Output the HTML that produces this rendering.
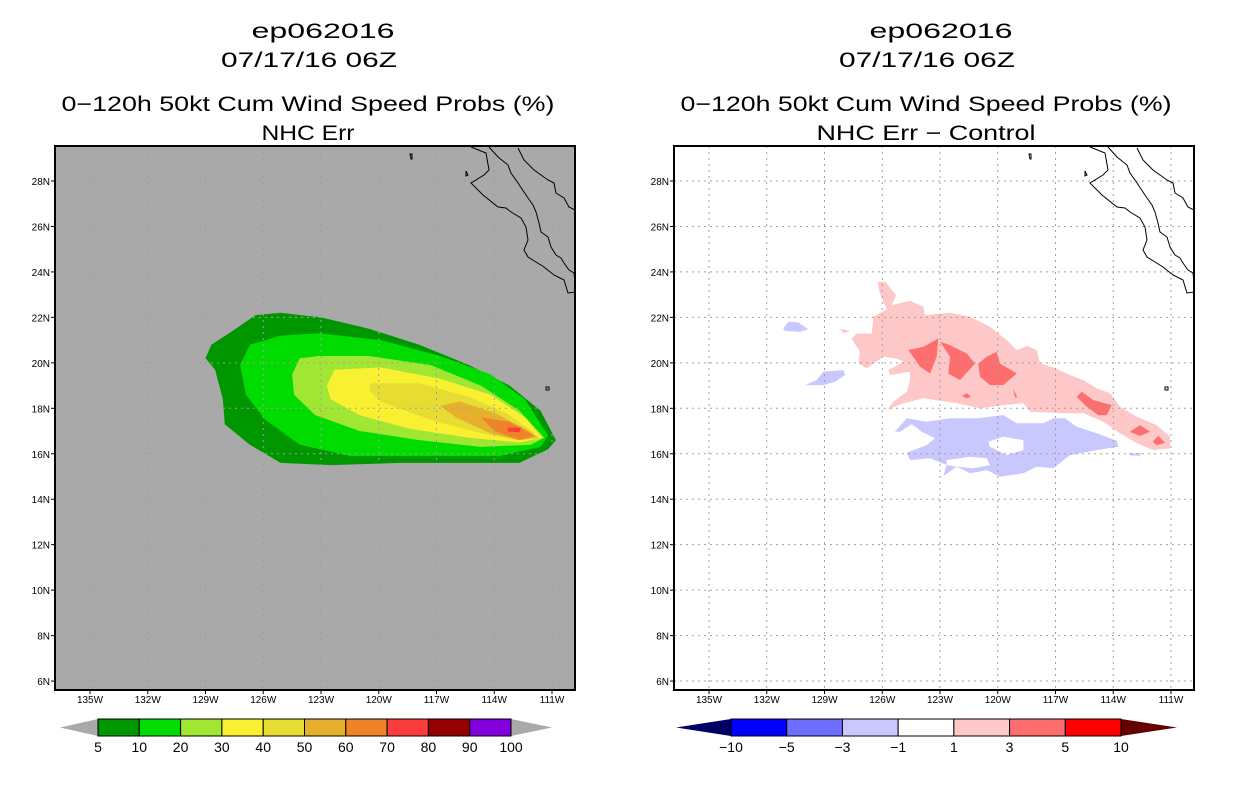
<!DOCTYPE html>
<html><head><meta charset="utf-8"><style>
html,body{margin:0;padding:0;background:#fff;}
svg{display:block;font-family:"Liberation Sans",sans-serif;}
</style></head><body>
<svg id="fig" width="1236" height="800" viewBox="0 0 1236 800" xmlns="http://www.w3.org/2000/svg">
<g font-size="21" text-anchor="middle" fill="#000" lengthAdjust="spacingAndGlyphs">
<text x="323" y="38" textLength="143" lengthAdjust="spacingAndGlyphs">ep062016</text>
<text x="309" y="67" textLength="176" lengthAdjust="spacingAndGlyphs">07/17/16 06Z</text>
<text x="308" y="111" textLength="493" lengthAdjust="spacingAndGlyphs">0−120h 50kt Cum Wind Speed Probs (%)</text>
<text x="308" y="140" textLength="93" lengthAdjust="spacingAndGlyphs">NHC Err</text>
</g>
<g font-size="21" text-anchor="middle" fill="#000">
<text x="941" y="38" textLength="143" lengthAdjust="spacingAndGlyphs">ep062016</text>
<text x="927" y="67" textLength="176" lengthAdjust="spacingAndGlyphs">07/17/16 06Z</text>
<text x="926" y="111" textLength="491" lengthAdjust="spacingAndGlyphs">0−120h 50kt Cum Wind Speed Probs (%)</text>
<text x="926" y="140" textLength="219" lengthAdjust="spacingAndGlyphs">NHC Err − Control</text>
</g>
<g id="leftPlot"></g>
<g id="rightPlot"></g>
<g id="leftBar"></g>
<g id="rightBar"></g>
</svg>
<script>
// ---- data ----
const latTicks = [28,26,24,22,20,18,16,14,12,10,8,6];
const lonTicks = [-135,-132,-129,-126,-123,-120,-117,-114,-111];
const probLevels = [5,10,20,30,40,50,60,70];
const probColors = ["#009600","#00dc00","#a0e632","#faf032","#e6dc32","#e6af2d","#f08228","#fa3c3c"];
const prob5  = [[-129.0,20.2],[-128.7,20.8],[-127.6,21.4],[-126.4,22.1],[-125.1,22.2],[-123.0,22.0],[-120.5,21.5],[-117.9,20.8],[-115.3,19.9],[-113.2,19.0],[-111.6,17.9],[-110.8,16.6],[-111.2,16.2],[-112.7,15.6],[-115.3,15.6],[-118.9,15.6],[-122.5,15.5],[-125.1,15.6],[-126.7,16.4],[-128.0,17.3],[-128.1,18.4],[-128.5,19.7]];
const prob10 = [[-127.2,19.9],[-126.7,20.8],[-125.1,21.2],[-123.1,21.3],[-119.9,21.0],[-116.8,20.3],[-114.2,19.5],[-112.4,18.4],[-111.2,16.8],[-111.6,16.3],[-113.7,15.9],[-117.9,15.9],[-121.5,15.9],[-124.1,16.4],[-125.9,17.5],[-126.9,18.6]];
const prob20 = [[-124.5,19.5],[-124.1,20.2],[-123.1,20.3],[-120.5,20.3],[-117.3,19.9],[-114.7,19.0],[-112.7,17.9],[-111.4,16.7],[-112.1,16.4],[-114.7,16.3],[-117.9,16.6],[-121.0,17.0],[-123.3,17.7],[-124.4,18.6]];
const prob30 = [[-122.7,19.0],[-122.3,19.7],[-119.9,19.8],[-116.8,19.3],[-114.2,18.6],[-112.4,17.6],[-111.5,16.7],[-112.7,16.5],[-115.3,16.7],[-118.4,17.1],[-121.0,17.7],[-122.5,18.4]];
const prob40 = [[-120.5,18.8],[-120.4,19.1],[-117.9,19.1],[-115.3,18.5],[-113.4,17.8],[-111.9,16.9],[-112.7,16.6],[-114.7,16.9],[-117.3,17.5],[-119.9,18.3]];
const prob50 = [[-116.8,18.1],[-115.8,18.3],[-114.0,17.8],[-112.4,17.1],[-111.7,16.7],[-112.7,16.6],[-114.2,16.9],[-116.0,17.6]];
const prob60 = [[-114.7,17.6],[-113.2,17.4],[-111.9,16.8],[-112.7,16.6],[-114.0,17.0]];
const prob70 = [[-113.3,17.15],[-112.6,17.15],[-112.7,16.95],[-113.3,16.98]];
const diffPos1 = [[-127.59,21.07],[-127.33,21.29],[-126.55,21.29],[-126.46,22.03],[-125.77,22.35],[-126.12,23.05],[-126.25,23.57],[-125.85,23.57],[-125.28,22.98],[-125.51,22.54],[-124.56,22.73],[-123.86,22.47],[-123.78,22.10],[-122.48,22.20],[-121.44,22.03],[-120.40,21.59],[-119.53,21.00],[-119.01,20.56],[-118.49,20.74],[-117.97,20.56],[-117.80,19.97],[-117.11,19.80],[-116.24,19.46],[-115.55,19.24],[-114.86,18.88],[-114.16,18.66],[-113.65,18.07],[-112.78,17.63],[-111.74,17.26],[-111.05,16.75],[-111.05,16.24],[-111.92,16.16],[-112.78,16.46],[-113.65,16.90],[-114.51,17.41],[-115.55,17.78],[-116.59,17.78],[-118.32,17.85],[-118.67,18.22],[-119.71,18.14],[-120.92,18.00],[-122.13,18.22],[-123.86,18.44],[-124.90,18.22],[-125.77,17.92],[-125.42,18.29],[-124.73,18.73],[-124.56,19.24],[-124.56,19.61],[-125.60,19.46],[-125.68,19.68],[-124.90,20.05],[-125.25,20.19],[-125.94,20.27],[-126.81,19.75],[-127.24,19.97],[-127.16,20.49]];
const diffPos2 = [[-128.2,21.5],[-127.7,21.4],[-128.0,21.3]];
const diffPos3 = [[-113.82,17.55],[-113.22,17.52],[-113.65,17.44]];
const diffStrong1 = [[-124.64,20.56],[-123.86,20.71],[-123.09,21.07],[-123.17,20.27],[-123.52,19.53],[-124.04,19.83]];
const diffStrong2 = [[-123.0,20.93],[-122.48,20.78],[-121.61,20.41],[-121.18,19.97],[-121.96,19.24],[-122.57,19.53],[-122.48,20.27]];
const diffStrong3 = [[-121.01,19.97],[-120.57,20.27],[-120.06,20.49],[-119.88,19.97],[-119.01,19.53],[-119.71,19.02],[-120.40,19.02],[-120.92,19.39]];
const diffStrong4 = [[-115.90,18.51],[-115.64,18.73],[-115.03,18.36],[-114.08,18.14],[-114.34,17.70],[-114.77,17.70],[-115.38,18.07]];
const diffStrong5 = [[-113.13,16.97],[-112.61,17.26],[-112.09,16.97],[-112.61,16.78]];
const diffStrong6 = [[-111.95,16.53],[-111.66,16.79],[-111.31,16.48],[-111.74,16.38]];
const diffStrong7 = [[-121.87,18.54],[-121.61,18.66],[-121.39,18.51],[-121.61,18.44]];
const diffStrong8 = [[-119.22,18.88],[-119.10,18.48],[-118.98,18.48]];
const diffNeg1 = [[-125.34,16.97],[-124.73,17.56],[-123.69,17.41],[-122.48,17.56],[-121.09,17.56],[-119.71,17.70],[-119.01,17.34],[-117.63,17.34],[-117.11,17.56],[-116.50,17.56],[-115.90,17.19],[-114.86,16.90],[-113.82,16.57],[-113.73,16.31],[-114.86,16.16],[-116.25,15.94],[-117.11,15.36],[-117.98,15.43],[-118.67,15.14],[-119.88,14.99],[-120.57,15.28],[-121.44,15.14],[-122.13,15.43],[-122.83,15.02],[-122.65,15.50],[-123.52,15.80],[-124.56,15.72],[-124.73,16.05],[-123.69,16.38],[-123.26,16.68],[-123.95,16.97],[-124.47,17.31],[-125.08,16.97]];
const diffNegHole1 = [[-120.49,16.53],[-119.71,16.75],[-118.67,16.60],[-118.67,16.16],[-119.54,15.94],[-120.40,16.31]];
const diffNegHole2 = [[-122.65,15.72],[-121.44,15.87],[-120.57,15.80],[-120.40,15.50],[-121.27,15.36],[-122.13,15.43],[-122.65,15.50]];
const diffNeg2 = [[-131.14,21.51],[-130.88,21.81],[-130.36,21.78],[-129.84,21.47],[-130.27,21.37],[-131.05,21.40]];
const diffNeg3 = [[-130.01,19.02],[-129.41,19.24],[-129.06,19.61],[-128.02,19.68],[-127.93,19.46],[-128.45,19.17],[-129.06,19.02]];
const diffNeg4 = [[-113.22,16.02],[-112.53,16.02],[-112.6,15.92],[-113.1,15.92]];
const probBarLabels = ["5","10","20","30","40","50","60","70","80","90","100"];
const probBarColors = ["#009600","#00dc00","#a0e632","#faf032","#e6dc32","#e6af2d","#f08228","#fa3c3c","#960000","#8200dc"];
const diffBarLabels = ["−10","−5","−3","−1","1","3","5","10"];
const diffBarColors = ["#0000ff","#6e6eff","#c8c8ff","#ffffff","#ffc8c8","#ff6e6e","#ff0000"];

// ---- geometry ----
const NS = "http://www.w3.org/2000/svg";
const FW = 520, FH = 544, TOP = 146;
function xs(ox){ return lon => ox + 35 + (lon + 135) * 19.25; }
function ys(lat){ return 181 + (28 - lat) * 22.73; }
function mk(tag, attrs, parent){
  const e = document.createElementNS(NS, tag);
  for (const k in attrs) e.setAttribute(k, attrs[k]);
  parent.appendChild(e); return e;
}
function pts(poly, X){ return poly.map(p => X(p[0]).toFixed(1) + "," + ys(p[1]).toFixed(1)).join(" "); }
const coastA = "M416,1 L431,7 L434,24 L429,29 L416,37 L428,49 L443,61 L451,62 L456,66 L466,72 L471,81 L473,94 L469,104 L473,111 L481,116 L489,121 L499,129 L509,134 L513,147 L521,146 L519,127 L514,124 L509,117 L506,112 L501,109 L496,101 L493,91 L486,86 L484,77 L481,66 L478,59 L473,52 L463,37 L456,27 L453,19 L443,11 L434,1";
const coastB = "M463,2 L469,14 L479,24 L493,34 L499,37 L501,47 L509,52 L514,61 L520,64";
const islands = "M355,8 l1,5 l1,0 l0,-5 Z M411,25 l2,4 l-2,1 Z M491,241 l3,0 l0,3 l-3,0 Z";

function drawPanel(g, ox, bg, which){
  const X = xs(ox);
  const clipId = "clip" + which;
  const cp = mk("clipPath", {id: clipId}, g);
  mk("rect", {x: ox, y: TOP, width: FW, height: FH}, cp);
  const bgr = mk("rect", {x: ox, y: TOP, width: FW, height: FH, fill: bg}, g);
  
  
  const inner = mk("g", {"clip-path": "url(#" + clipId + ")"}, g);
  if (which === "L") {
    const polys = [prob5, prob10, prob20, prob30, prob40, prob50, prob60, prob70];
    polys.forEach((poly, i) => {
      const p = mk("polygon", {points: pts(poly, X), fill: probColors[i]}, inner);
      
      
    });
  } else {
    const pink = [diffPos1, diffPos2, diffPos3];
    pink.forEach(poly => {
      const p = mk("polygon", {points: pts(poly, X), fill: "#ffc8c8"}, inner);
      
      
    });
    const red = [diffStrong1, diffStrong2, diffStrong3, diffStrong4, diffStrong5, diffStrong6, diffStrong7, diffStrong8];
    red.forEach(poly => {
      const p = mk("polygon", {points: pts(poly, X), fill: "#ff6e6e"}, inner);
      
      
    });
    const blue = [diffNeg1, diffNeg2, diffNeg3, diffNeg4];
    blue.forEach(poly => {
      const p = mk("polygon", {points: pts(poly, X), fill: "#c8c8ff"}, inner);
      
      
    });
    [diffNegHole1, diffNegHole2].forEach(poly => {
      const p = mk("polygon", {points: pts(poly, X), fill: "#ffffff"}, inner);
      
      
    });
  }
  lonTicks.forEach(lon => {
    const l = mk("line", {x1: X(lon), x2: X(lon), y1: TOP, y2: TOP + FH, stroke: "#a0a0a0", "stroke-width": 1, "stroke-dasharray": "2,4"}, inner);
    
    
  });
  latTicks.forEach(lat => {
    const l = mk("line", {x1: ox, x2: ox + FW, y1: ys(lat), y2: ys(lat), stroke: "#a0a0a0", "stroke-width": 1, "stroke-dasharray": "2,4"}, inner);
    
    
  });
  const cg = mk("g", {transform: "translate(" + ox + "," + TOP + ")", fill: "none", stroke: "#000", "stroke-width": 1}, inner);
  
  
  mk("path", {d: coastA}, cg);
  mk("path", {d: coastB}, cg);
  mk("path", {d: islands}, cg);
  const fr = mk("rect", {x: ox, y: TOP, width: FW, height: FH, fill: "none", stroke: "#000", "stroke-width": 2}, g);
  
  
  latTicks.forEach(lat => {
    mk("line", {x1: ox - 4, x2: ox, y1: ys(lat), y2: ys(lat), stroke: "#000"}, g);
    const t = mk("text", {x: ox - 5, y: ys(lat) + 4, "font-size": 10, "text-anchor": "end"}, g);
    t.textContent = lat + "N";
    
    
  });
  lonTicks.forEach(lon => {
    mk("line", {x1: X(lon), x2: X(lon), y1: TOP + FH, y2: TOP + FH + 4, stroke: "#000"}, g);
    const t = mk("text", {x: X(lon), y: 703, "font-size": 10, "text-anchor": "middle"}, g);
    t.textContent = (-lon) + "W";
    
    
  });
}
drawPanel(document.getElementById("leftPlot"), 55, "#a9a9a9", "L");
drawPanel(document.getElementById("rightPlot"), 674, "#ffffff", "R");

function drawBar(g, x0, x1, triL, triR, colors, labels, lcol, rcol){
  const y0 = 719, h = 17, n = colors.length, w = (x1 - x0) / n;
  const lt = mk("polygon", {points: triL + "," + (y0 + h / 2) + " " + x0 + "," + y0 + " " + x0 + "," + (y0 + h), fill: lcol}, g);
  
  
  const rt = mk("polygon", {points: triR + "," + (y0 + h / 2) + " " + x1 + "," + y0 + " " + x1 + "," + (y0 + h), fill: rcol}, g);
  
  
  colors.forEach((c, i) => {
    const r = mk("rect", {x: x0 + i * w, y: y0, width: w, height: h, fill: c, stroke: "#000", "stroke-width": 1}, g);
    
    
  });
  labels.forEach((s, i) => {
    const t = mk("text", {x: x0 + i * w, y: 752, "font-size": 14, "text-anchor": "middle"}, g);
    t.textContent = s;
    
    
  });
}
drawBar(document.getElementById("leftBar"), 98, 511, 60, 552, probBarColors, probBarLabels, "#a9a9a9", "#a9a9a9");
drawBar(document.getElementById("rightBar"), 731, 1121, 676, 1177, diffBarColors, diffBarLabels, "#000064", "#640000");
</script>
</body></html>
